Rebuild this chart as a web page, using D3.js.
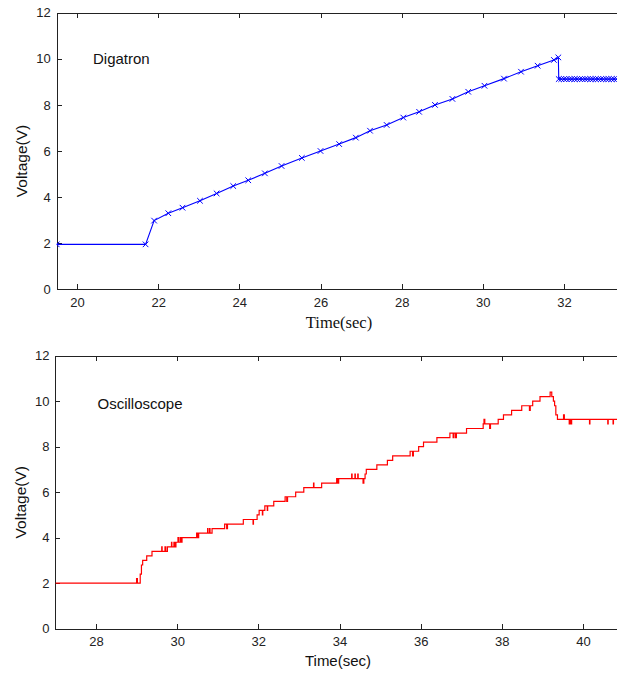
<!DOCTYPE html>
<html>
<head>
<meta charset="utf-8">
<script src="https://cdn.jsdelivr.net/npm/d3@7"></script>
<style>
  html, body { margin: 0; padding: 0; background: #fff; }
  svg { display: block; }
  .tick text { font-family: "Liberation Sans", Arial, sans-serif; font-size: 13px; fill: #222; }
  .axis path, .axis line { stroke: #222; shape-rendering: crispEdges; }
</style>
</head>
<body>
<svg id="chart" width="617" height="673"></svg>
<script>
// Digatron record: time (s) and voltage (V) of each logged sample
const digTime = [19.50, 21.69, 21.90, 22.25, 22.60, 23.03, 23.44, 23.85, 24.22, 24.63,
  25.04, 25.54, 26.00, 26.46, 26.87, 27.22, 27.63, 28.04, 28.43, 28.82,
  29.25, 29.64, 30.04, 30.52, 30.94, 31.35, 31.75, 31.86,
  31.87, 31.93, 32.00, 32.06, 32.13, 32.19, 32.26, 32.32, 32.39, 32.45,
  32.52, 32.58, 32.65, 32.71, 32.78, 32.84, 32.91, 32.97, 33.04, 33.10,
  33.17, 33.23, 33.30];
const digVolt = [1.95, 1.95, 2.98, 3.30, 3.54, 3.84, 4.16, 4.48, 4.73, 5.03,
  5.35, 5.70, 6.00, 6.30, 6.58, 6.88, 7.13, 7.45, 7.70, 8.00,
  8.26, 8.57, 8.83, 9.14, 9.44, 9.70, 9.95, 10.06,
  9.12, 9.12, 9.12, 9.12, 9.12, 9.12, 9.12, 9.12, 9.12, 9.12,
  9.12, 9.12, 9.12, 9.12, 9.12, 9.12, 9.12, 9.12, 9.12, 9.12,
  9.12, 9.12, 9.12];

// Oscilloscope trace: time (s) where the quantised reading changes, and the new level (V)
const oscTime = [27.00, 29.00, 29.02, 29.09, 29.12, 29.15, 29.25, 29.38, 29.62, 29.63,
  29.70, 29.72, 29.76, 29.86, 29.87, 29.92, 29.94, 29.97, 30.02, 30.03,
  30.07, 30.09, 30.12, 30.48, 30.50, 30.53, 30.75, 30.76, 30.80, 30.81,
  30.86, 31.17, 31.22, 31.24, 31.63, 31.87, 31.88, 31.97, 32.02, 32.10,
  32.11, 32.16, 32.22, 32.23, 32.38, 32.66, 32.70, 32.72, 32.92, 33.12,
  33.36, 33.37, 33.56, 33.93, 33.96, 33.98, 34.30, 34.31, 34.38, 34.39,
  34.45, 34.46, 34.58, 34.60, 34.63, 34.66, 34.92, 35.18, 35.31, 35.74,
  35.80, 35.82, 35.95, 36.07, 36.40, 36.72, 36.80, 36.82, 36.86, 36.88,
  37.13, 37.54, 37.56, 37.58, 37.70, 37.72, 37.91, 38.04, 38.24, 38.49,
  38.68, 38.70, 38.76, 38.94, 39.19, 39.23, 39.27, 39.30, 39.33, 39.37,
  39.52, 39.54, 39.66, 39.68, 39.71, 39.72, 40.16, 40.17, 40.61, 40.62,
  40.74, 40.75, 41.00];
const oscVolt = [2.0, 2.2, 2.0, 2.4, 2.8, 3.0, 3.2, 3.4, 3.6, 3.4,
  3.6, 3.4, 3.6, 3.8, 3.6, 3.8, 3.6, 3.8, 4.0, 3.8,
  4.0, 3.8, 4.0, 4.2, 4.0, 4.2, 4.4, 4.2, 4.4, 4.2,
  4.4, 4.6, 4.4, 4.6, 4.8, 4.6, 4.8, 5.0, 5.2, 5.0,
  5.2, 5.4, 5.2, 5.4, 5.6, 5.8, 5.6, 5.8, 6.0, 6.2,
  6.4, 6.2, 6.4, 6.6, 6.4, 6.6, 6.8, 6.6, 6.8, 6.6,
  6.8, 6.6, 6.4, 6.6, 6.8, 7.0, 7.2, 7.4, 7.6, 7.8,
  7.6, 7.8, 8.0, 8.2, 8.4, 8.6, 8.4, 8.6, 8.4, 8.6,
  8.8, 9.0, 9.2, 9.0, 8.8, 9.0, 9.2, 9.4, 9.6, 9.8,
  9.6, 9.8, 10.0, 10.2, 10.4, 10.2, 10.0, 9.8, 9.4, 9.2,
  9.4, 9.2, 9.0, 9.2, 9.0, 9.2, 9.0, 9.2, 9.0, 9.2,
  9.0, 9.2, 9.2];

const yTicks = [0, 2, 4, 6, 8, 10, 12];
const digXTicks = [20, 22, 24, 26, 28, 30, 32];
const oscXTicks = [28, 30, 32, 34, 36, 38, 40];

const svg = d3.select("#chart");
const sans = '"Liberation Sans", Arial, sans-serif';
const serif = '"Liberation Serif", "Times New Roman", serif';

function panel(cfg) {
  const g = svg.append("g");
  const x = d3.scaleLinear().domain(cfg.xDomain).range([cfg.left, cfg.right]);
  const y = d3.scaleLinear().domain([0, 12]).range([cfg.bottom, cfg.top]);

  const clipId = "clip-" + cfg.id;
  g.append("clipPath").attr("id", clipId)
    .append("rect")
    .attr("x", cfg.left).attr("y", cfg.top)
    .attr("width", cfg.right - cfg.left).attr("height", cfg.bottom - cfg.top);

  // axes with ticks pointing into the plot box
  g.append("g").attr("class", "axis")
    .attr("transform", `translate(0,${cfg.bottom})`)
    .call(d3.axisBottom(x).tickValues(cfg.xTicks).tickSizeInner(-5).tickSizeOuter(0).tickPadding(8));
  g.append("g").attr("class", "axis")
    .attr("transform", `translate(0,${cfg.top})`)
    .call(d3.axisTop(x).tickValues(cfg.xTicks).tickSizeInner(-5).tickSizeOuter(0).tickFormat(""));
  g.append("g").attr("class", "axis")
    .attr("transform", `translate(${cfg.left},0)`)
    .call(d3.axisLeft(y).tickValues(yTicks).tickSizeInner(-5).tickSizeOuter(0).tickPadding(6));

  const plot = g.append("g").attr("clip-path", `url(#${clipId})`);
  cfg.draw(plot, x, y);

  g.append("text")
    .attr("x", cfg.noteX).attr("y", cfg.noteY)
    .attr("font-family", sans).attr("font-size", 15).attr("fill", "#111")
    .text(cfg.note);

  g.append("text")
    .attr("transform", `translate(${cfg.yLabelX},${(cfg.top + cfg.bottom) / 2 + 10}) rotate(-90)`)
    .attr("text-anchor", "middle").attr("dominant-baseline", "central")
    .attr("font-family", sans).attr("font-size", 15.5).attr("fill", "#111")
    .text("Voltage(V)");

  g.append("text")
    .attr("x", cfg.xLabelX).attr("y", cfg.xLabelY)
    .attr("text-anchor", "middle").attr("dominant-baseline", "central")
    .attr("font-family", cfg.xLabelFont).attr("font-size", cfg.xLabelSize).attr("fill", "#111")
    .text("Time(sec)");
}

// Top panel: Digatron samples joined by a line, each marked with an x
panel({
  id: "dig", left: 56.7, right: 645.2, top: 12.7, bottom: 289.3,
  xDomain: [19.5, 34], xTicks: digXTicks,
  note: "Digatron", noteX: 93, noteY: 63.5,
  yLabelX: 21.7, xLabelX: 339, xLabelY: 322, xLabelFont: serif, xLabelSize: 16.5,
  draw(plot, x, y) {
    const pts = digTime.map((t, i) => [t, digVolt[i]]);
    plot.append("path")
      .attr("d", d3.line().x(d => x(d[0])).y(d => y(d[1]))(pts))
      .attr("fill", "none").attr("stroke", "#0000ff").attr("stroke-width", 1.1);
    const s = 2.8;
    plot.append("g").selectAll("path").data(pts).join("path")
      .attr("d", d => {
        const cx = x(d[0]), cy = y(d[1]);
        return `M${cx - s},${cy - s}L${cx + s},${cy + s}M${cx - s},${cy + s}L${cx + s},${cy - s}`;
      })
      .attr("stroke", "#0000ff").attr("stroke-width", 1).attr("fill", "none");
  }
});

// Bottom panel: oscilloscope trace, drawn as a stepped line
panel({
  id: "osc", left: 55.4, right: 643.9, top: 355.7, bottom: 628.7,
  xDomain: [27, 41.5], xTicks: oscXTicks,
  note: "Oscilloscope", noteX: 97.5, noteY: 408.5,
  yLabelX: 20.7, xLabelX: 338, xLabelY: 660, xLabelFont: sans, xLabelSize: 15,
  draw(plot, x, y) {
    const pts = oscTime.map((t, i) => [t, oscVolt[i]]);
    plot.append("path")
      .attr("d", d3.line().curve(d3.curveStepAfter).x(d => x(d[0])).y(d => y(d[1])).apply(null, [pts]))
      .attr("fill", "none").attr("stroke", "#ff0000").attr("stroke-width", 1.2);
  }
});
</script>
</body>
</html>
